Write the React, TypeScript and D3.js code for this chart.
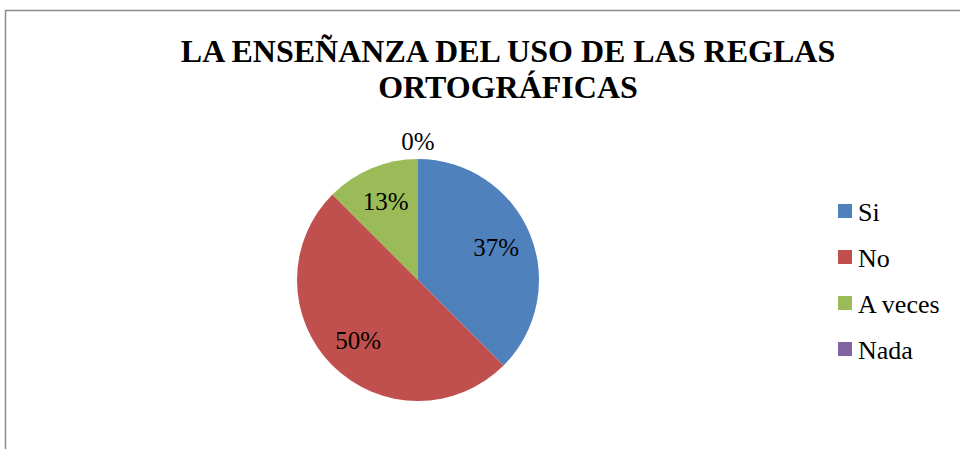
import React, { useEffect, useRef } from "react";
import * as d3 from "d3";

const categories = ["Si", "No", "A veces", "Nada"];
const values = [37.5, 50, 12.5, 0];
const percentLabels = ["37%", "50%", "13%", "0%"];
const colors = ["#4F81BD", "#C0504D", "#9BBB59", "#8064A2"];
const titleLines = ["LA ENSEÑANZA DEL USO DE LAS REGLAS", "ORTOGRÁFICAS"];

const FONT = '"Liberation Serif", "Times New Roman", Tinos, "DejaVu Serif", serif';

export default function App() {
  const ref = useRef<SVGSVGElement | null>(null);

  useEffect(() => {
    const width = 960;
    const height = 449;
    const svg = d3.select(ref.current);
    svg.selectAll("*").remove();

    // chart frame
    svg
      .append("rect")
      .attr("x", 5.5)
      .attr("y", 10.5)
      .attr("width", 1000)
      .attr("height", 500)
      .attr("fill", "white")
      .attr("stroke", "#8c8c8c")
      .attr("stroke-width", 1.5);

    // title
    svg
      .append("g")
      .selectAll("text")
      .data(titleLines)
      .enter()
      .append("text")
      .attr("x", 508)
      .attr("y", (d, i) => 62 + i * 36)
      .attr("text-anchor", "middle")
      .attr("font-family", FONT)
      .attr("font-weight", "bold")
      .attr("font-size", 32)
      .attr("fill", "#000")
      .text((d) => d);

    // pie
    const cx = 418;
    const cy = 280;
    const r = 121;
    const data = categories.map((c, i) => ({ name: c, value: values[i], label: percentLabels[i], color: colors[i] }));

    const pie = d3
      .pie<any>()
      .value((d) => d.value)
      .sort(null);
    const arcs = pie(data);
    const arc = d3.arc<any>().innerRadius(0).outerRadius(r);
    const labelArc = d3.arc<any>().innerRadius(r * 0.7).outerRadius(r * 0.7);
    const outerArc = d3.arc<any>().innerRadius(r + 18).outerRadius(r + 18);

    const g = svg.append("g").attr("transform", `translate(${cx},${cy})`);
    g.selectAll("path")
      .data(arcs)
      .enter()
      .append("path")
      .attr("d", arc)
      .attr("fill", (d) => d.data.color);

    // data labels, the empty slice gets its label outside
    g.selectAll(".lbl")
      .data(arcs)
      .enter()
      .append("text")
      .attr("class", "lbl")
      .attr("transform", (d) => {
        const p = d.data.value === 0 ? outerArc.centroid(d) : labelArc.centroid(d);
        return `translate(${p[0]},${p[1]})`;
      })
      .attr("dy", "0.35em")
      .attr("text-anchor", "middle")
      .attr("font-family", FONT)
      .attr("font-size", 25)
      .attr("fill", "#000")
      .text((d) => d.data.label);

    // legend
    const legend = svg
      .append("g")
      .selectAll("g")
      .data(data)
      .enter()
      .append("g")
      .attr("transform", (d, i) => `translate(838,${204 + i * 46})`);
    legend
      .append("rect")
      .attr("width", 14)
      .attr("height", 14)
      .attr("fill", (d) => d.color);
    legend
      .append("text")
      .attr("x", 20)
      .attr("y", 17)
      .attr("font-family", FONT)
      .attr("font-size", 26)
      .attr("fill", "#000")
      .text((d) => d.name);

    svg.attr("width", width).attr("height", height);
  }, []);

  return (
    <svg
      ref={ref}
      width={960}
      height={449}
      style={{ position: "absolute", left: 0, top: 0, background: "white" }}
    ></svg>
  );
}
